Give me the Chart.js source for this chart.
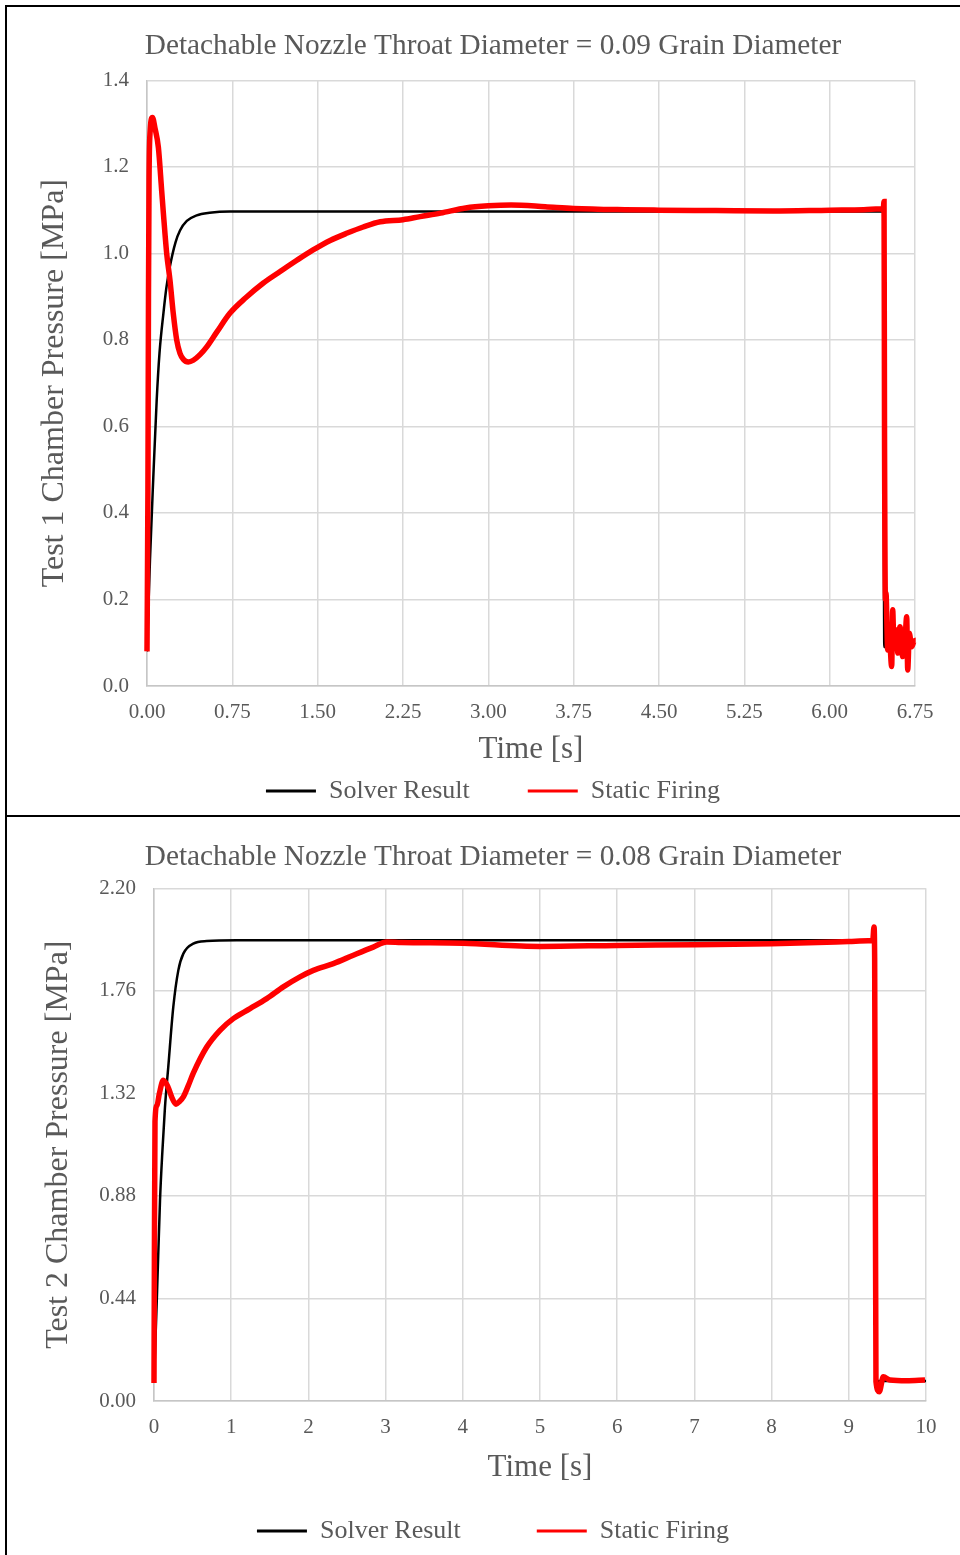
<!DOCTYPE html>
<html>
<head>
<meta charset="utf-8">
<script src="https://cdn.jsdelivr.net/npm/chart.js@4"></script>
<style>
  html, body { margin: 0; padding: 0; background: #fff; overflow: hidden; }
  body { width: 960px; height: 1555px; position: relative; }
  canvas { position: absolute; left: 0; }
  #chart1 { top: 0; }
  #chart2 { top: 816px; }
  .frame { position: absolute; left: 5px; width: 1000px; border: 2px solid #000; box-sizing: border-box; pointer-events: none; }
  #frame1 { top: 5px; height: 812px; }
  #frame2 { top: 815px; height: 800px; }
</style>
</head>
<body>
<canvas id="chart1" width="960" height="815"></canvas>
<canvas id="chart2" width="960" height="739"></canvas>
<div class="frame" id="frame1"></div>
<div class="frame" id="frame2"></div>
<script>
// Test 1 - throat diameter 0.09 grain diameter
const test1XTicks = [0, 0.75, 1.5, 2.25, 3, 3.75, 4.5, 5.25, 6, 6.75];
const test1YTicks = [0, 0.2, 0.4, 0.6, 0.8, 1.0, 1.2, 1.4];

const test1SolverTime = [0, 0.026, 0.055, 0.085, 0.11, 0.144, 0.17, 0.2, 0.25, 0.29, 0.35, 0.437, 0.55, 0.73, 6.47, 6.48, 6.49];
const test1SolverPressure = [0.08, 0.29, 0.48, 0.66, 0.77, 0.861, 0.92, 0.968, 1.025, 1.053, 1.075, 1.088, 1.094, 1.097, 1.097, 0.09, 0.09];

const test1FiringTime = [0, 0.008, 0.013, 0.018, 0.027, 0.048, 0.07, 0.1, 0.129, 0.144, 0.173, 0.202, 0.231, 0.261, 0.29, 0.32, 0.363, 0.407, 0.466, 0.525, 0.613, 0.73, 0.87, 1.02, 1.17, 1.317, 1.46, 1.61, 1.76, 1.9, 2.05, 2.25, 2.4, 2.58, 2.8, 3.0, 3.2, 3.5, 3.75, 4.2, 4.5, 5.0, 5.5, 6.0, 6.3, 6.45, 6.47, 6.478, 6.482, 6.49, 6.495, 6.51, 6.521, 6.545, 6.554, 6.565, 6.583, 6.6, 6.618, 6.642, 6.662, 6.677, 6.686, 6.7, 6.721, 6.739, 6.756, 6.774];
const test1FiringPressure = [0.08, 0.45, 0.9, 1.17, 1.28, 1.314, 1.29, 1.245, 1.145, 1.093, 1.0, 0.938, 0.861, 0.8, 0.769, 0.755, 0.749, 0.753, 0.766, 0.784, 0.818, 0.862, 0.898, 0.931, 0.958, 0.984, 1.008, 1.03, 1.047, 1.061, 1.073, 1.078, 1.085, 1.093, 1.105, 1.11, 1.112, 1.108, 1.104, 1.101, 1.1, 1.099, 1.098, 1.1, 1.101, 1.103, 1.1, 1.12, 0.6, 0.2, 0.215, 0.083, 0.13, 0.045, 0.176, 0.091, 0.13, 0.076, 0.137, 0.068, 0.106, 0.16, 0.037, 0.122, 0.091, 0.102, 0.106, 0.09];

// Test 2 - throat diameter 0.08 grain diameter
const test2XTicks = [0, 1, 2, 3, 4, 5, 6, 7, 8, 9, 10];
const test2YTicks = [0, 0.44, 0.88, 1.32, 1.76, 2.2];

const test2SolverTime = [0, 0.04, 0.078, 0.11, 0.142, 0.185, 0.25, 0.315, 0.38, 0.509, 0.683, 1.07, 9.33, 9.35, 10];
const test2SolverPressure = [0.08, 0.47, 0.862, 1.08, 1.26, 1.434, 1.691, 1.848, 1.92, 1.963, 1.974, 1.977, 1.977, 0.086, 0.086];

const test2FiringTime = [0, 0.005, 0.013, 0.04, 0.07, 0.12, 0.181, 0.235, 0.285, 0.33, 0.38, 0.44, 0.509, 0.683, 0.855, 1.027, 1.244, 1.46, 1.675, 1.891, 2.064, 2.323, 2.582, 2.84, 3.014, 3.2, 4.0, 5.0, 6.0, 7.0, 8.0, 9.0, 9.25, 9.31, 9.326, 9.335, 9.352, 9.395, 9.447, 9.534, 9.75, 9.987];
const test2FiringPressure = [0.077, 0.6, 1.2, 1.27, 1.32, 1.376, 1.348, 1.3, 1.274, 1.285, 1.305, 1.35, 1.407, 1.519, 1.591, 1.641, 1.684, 1.727, 1.777, 1.82, 1.848, 1.877, 1.913, 1.948, 1.97, 1.968, 1.964, 1.951, 1.955, 1.958, 1.962, 1.972, 1.975, 1.975, 2.034, 1.9, 0.083, 0.04, 0.104, 0.09, 0.087, 0.09];

const textColor = '#595959';
const fontFamily = "'Liberation Serif', 'Times New Roman', serif";

function toPoints(times, values) {
    return times.map((t, i) => ({x: t, y: values[i]}));
}

function createPressureChart(canvasId, opts) {
    const ctx = document.getElementById(canvasId);

    ctx.chartInstance = new Chart(ctx, {
        type: 'line',
        data: {
            datasets: [{
                label: 'Static Firing',
                data: toPoints(opts.firingTime, opts.firingPressure),
                borderColor: '#ff0000',
                backgroundColor: '#ff0000',
                borderWidth: 5.5,
                pointRadius: 0,
                cubicInterpolationMode: 'monotone',
                clip: 4
            }, {
                label: 'Solver Result',
                data: toPoints(opts.solverTime, opts.solverPressure),
                borderColor: '#000000',
                backgroundColor: '#000000',
                borderWidth: 2.5,
                pointRadius: 0,
                cubicInterpolationMode: 'monotone'
            }]
        },
        options: {
            responsive: false,
            animation: false,
            layout: {
                padding: opts.layoutPadding
            },
            scales: {
                x: {
                    type: 'linear',
                    min: opts.xTicks[0],
                    max: opts.xTicks[opts.xTicks.length - 1],
                    afterBuildTicks: scale => { scale.ticks = opts.xTicks.map(v => ({value: v})); },
                    afterFit: scale => { scale.height = opts.xAxisHeight; },
                    grid: {color: '#d9d9d9', lineWidth: 1.5, drawTicks: false},
                    border: {color: '#c6c6c6', width: 1.5},
                    ticks: {
                        color: textColor,
                        font: {family: fontFamily, size: 21},
                        padding: 13.4,
                        maxRotation: 0,
                        autoSkip: false,
                        callback: v => v.toFixed(opts.xDigits)
                    },
                    title: {
                        display: true,
                        text: 'Time [s]',
                        color: textColor,
                        font: {family: fontFamily, size: 31},
                        padding: {top: 0, bottom: opts.xTitleShift}
                    }
                },
                y: {
                    min: 0,
                    max: opts.yTicks[opts.yTicks.length - 1],
                    afterBuildTicks: scale => { scale.ticks = opts.yTicks.map(v => ({value: v})); },
                    afterFit: scale => { scale.width = opts.yAxisWidth; },
                    grid: {color: '#d9d9d9', lineWidth: 1.5, drawTicks: false},
                    border: {color: '#c6c6c6', width: 1.5},
                    ticks: {
                        color: textColor,
                        font: {family: fontFamily, size: 21},
                        padding: 18,
                        callback: v => v.toFixed(opts.yDigits)
                    },
                    title: {
                        display: true,
                        text: opts.yTitle,
                        color: textColor,
                        font: {family: fontFamily, size: 32},
                        padding: {top: opts.yTitleShift, bottom: 0}
                    }
                }
            },
            plugins: {
                title: {
                    display: true,
                    text: opts.title,
                    color: textColor,
                    font: {family: fontFamily, size: 29.3, weight: 'normal'},
                    padding: opts.titlePadding
                },
                legend: {
                    position: 'bottom',
                    labels: {
                        color: textColor,
                        font: {family: fontFamily, size: 26},
                        boxWidth: 50,
                        boxHeight: 3,
                        padding: opts.legendGap,
                        sort: (a, b) => b.datasetIndex - a.datasetIndex,
                        generateLabels: chart => {
                            const items = Chart.defaults.plugins.legend.labels.generateLabels(chart);
                            items.forEach(item => {
                                item.fillStyle = item.strokeStyle;
                                item.lineWidth = 0;
                            });
                            return items;
                        }
                    }
                },
                tooltip: {enabled: false}
            }
        }
    });
}

createPressureChart('chart1', {
    title: 'Detachable Nozzle Throat Diameter = 0.09 Grain Diameter',
    yTitle: 'Test 1 Chamber Pressure [MPa]',
    xTicks: test1XTicks, yTicks: test1YTicks, xDigits: 2, yDigits: 1,
    solverTime: test1SolverTime, solverPressure: test1SolverPressure,
    firingTime: test1FiringTime, firingPressure: test1FiringPressure,
    layoutPadding: {left: 71, right: 45, top: 0, bottom: 1},
    titlePadding: {top: 29, bottom: 16.2},
    yAxisWidth: 76, yTitleShift: -35.2,
    xAxisHeight: 34, xTitleShift: -48.6,
    legendGap: 58
});

createPressureChart('chart2', {
    title: 'Detachable Nozzle Throat Diameter = 0.08 Grain Diameter',
    yTitle: 'Test 2 Chamber Pressure [MPa]',
    xTicks: test2XTicks, yTicks: test2YTicks, xDigits: 0, yDigits: 2,
    solverTime: test2SolverTime, solverPressure: test2SolverPressure,
    firingTime: test2FiringTime, firingPressure: test2FiringPressure,
    layoutPadding: {left: 60, right: 34, top: 0, bottom: 1},
    titlePadding: {top: 23.4, bottom: 13.8},
    yAxisWidth: 94, yTitleShift: -20.2,
    xAxisHeight: 41, xTitleShift: -44.6,
    legendGap: 76
});
</script>
</body>
</html>
